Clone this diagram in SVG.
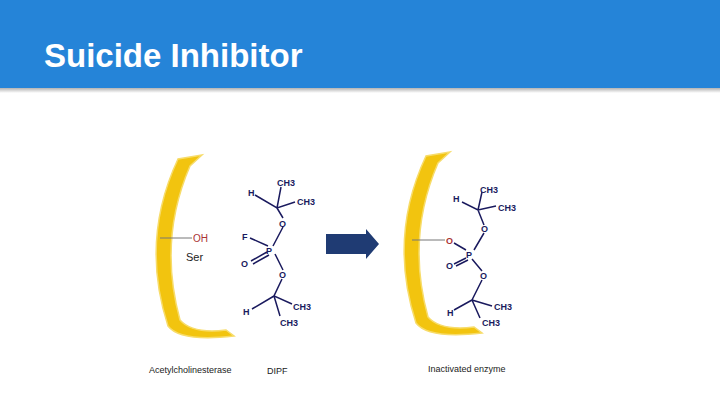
<svg xmlns="http://www.w3.org/2000/svg" width="720" height="405" viewBox="0 0 720 405">
<defs>
<linearGradient id="sh" x1="0" y1="0" x2="0" y2="1"><stop offset="0" stop-color="#000" stop-opacity="0.3"/><stop offset="1" stop-color="#000" stop-opacity="0"/></linearGradient>
<path id="cres" d="M202,155 L178,159 Q140,240 168,326 Q180,342 234,336 L226,330 Q192,334 180,320 Q158,240 190,166 Z"/>
</defs>
<style>
.m{font-family:"Liberation Sans",Arial,sans-serif;font-size:9px;font-weight:bold;fill:#1a1a5e}
.b{stroke:#1a1a5e;stroke-width:1.5;fill:none}
.l{font-family:"Liberation Sans",Arial,sans-serif;font-size:9px;fill:#222}
.c{fill:#f2c40f;stroke:#f7dc6a;stroke-width:1.5}
</style>
<rect width="720" height="405" fill="#fff"/>
<rect width="720" height="88" fill="#2584d8"/>
<rect y="88" width="720" height="5" fill="url(#sh)"/>
<text x="44" y="67" font-family="Liberation Sans,Arial,sans-serif" font-size="33" font-weight="bold" fill="#fff">Suicide Inhibitor</text>
<g id="enzyme">
<use href="#cres" class="c"/>
<line x1="160" y1="238" x2="192" y2="238" stroke="#777" stroke-width="1"/>
<text x="193" y="242" font-family="Liberation Sans,Arial,sans-serif" font-size="10" fill="#a33">OH</text>
<text x="186" y="261" font-family="Liberation Sans,Arial,sans-serif" font-size="11" fill="#222">Ser</text>
<text x="149" y="373" class="l">Acetylcholinesterase</text>
</g>
<g id="dipf">
<path class="b" d="M255,195 L277,208 L295,202 M277,208 L281,187 M277,208 L283,218 M283,227 L273,246 M250,238 L268,246 M267,252 L251,261 M269,255 L253,264 M275,254 L283,270 M282,279 L274,296 L292,304 M274,296 L252,309 M274,296 L280,316"/>
<text x="277" y="186" class="m">CH3</text>
<text x="248" y="196" class="m">H</text>
<text x="297" y="205" class="m">CH3</text>
<text x="279" y="227" class="m">O</text>
<text x="242" y="240" class="m">F</text>
<text x="266" y="254" class="m">P</text>
<text x="241" y="267" class="m">O</text>
<text x="279" y="278" class="m">O</text>
<text x="243" y="315" class="m">H</text>
<text x="293" y="310" class="m">CH3</text>
<text x="280" y="326" class="m">CH3</text>
<text x="267" y="374" class="l">DIPF</text>
</g>
<g id="connectors">
<path d="M326,234 L366,234 L366,229 L379,244 L366,259 L366,254 L326,254 Z" fill="#1f3b73"/>
</g>
<g id="inactivated">
<use href="#cres" class="c" transform="translate(248,-3)"/>
<line x1="412" y1="240" x2="445" y2="240" stroke="#777" stroke-width="1"/>
<path class="b" d="M462,202 L478,210 L496,206 M478,210 L482,192 M478,210 L484,225 M454,243 L466,250 M466,258 L454,264 M468,260 L456,266 M472,259 L482,271 M482,280 L472,300 L492,306 M472,300 L454,310 M472,300 L480,318 M484,233 L474,250"/>
<text x="446" y="244" font-family="Liberation Sans,Arial,sans-serif" font-size="9" font-weight="bold" fill="#a33">O</text>
<text x="480" y="193" class="m">CH3</text>
<text x="453" y="202" class="m">H</text>
<text x="498" y="211" class="m">CH3</text>
<text x="481" y="232" class="m">O</text>
<text x="466" y="258" class="m">P</text>
<text x="446" y="269" class="m">O</text>
<text x="480" y="279" class="m">O</text>
<text x="447" y="316" class="m">H</text>
<text x="494" y="310" class="m">CH3</text>
<text x="482" y="326" class="m">CH3</text>
<text x="428" y="372" class="l">Inactivated enzyme</text>
</g>
</svg>
